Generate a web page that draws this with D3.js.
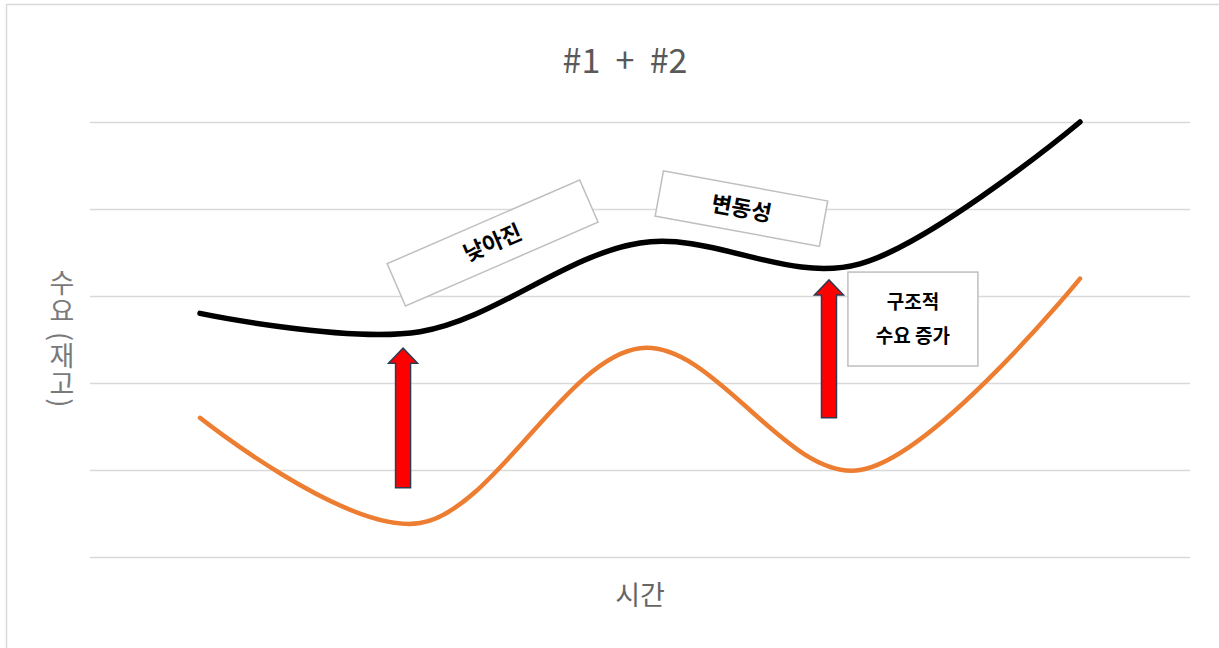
<!DOCTYPE html>
<html>
<head>
<meta charset="utf-8">
<script src="https://cdn.jsdelivr.net/npm/d3@7/dist/d3.min.js"></script>
<style>
  html, body { margin: 0; padding: 0; background: #fff; }
  svg { display: block; }
  text { font-family: "Noto Sans CJK KR", "Noto Sans", sans-serif; }
</style>
</head>
<body>
<svg id="chart" width="1219" height="648"></svg>
<script>
// Time periods (unlabeled categories along the x axis)
const categories = ["t1", "t2", "t3", "t4", "t5"];
// Combined demand (#1 + #2)
const combined = [5.6, 5.18, 7.22, 6.74, 10.0];
// Cyclical demand
const cyclical = [3.2, 0.78, 4.8, 2.0, 6.4];
// Horizontal gridline values
const gridTicks = [0, 2, 4, 6, 8, 10];

// Annotation arrows: position along the category index, start and end value
const arrows = [
  { idx: 0.923, from: 1.59, to: 4.8 },
  { idx: 2.859, from: 3.2, to: 6.37 }
];
// Rotated labels: centre (index, value), size in px, rotation in degrees
const tags = [
  { idx: 1.33, value: 7.22, w: 210, h: 46, angle: -23.5, text: "낮아진" },
  { idx: 2.461, value: 8.01, w: 167, h: 46, angle: 10.4, text: "변동성" }
];
// Boxed note
const note = { x0: 2.945, x1: 3.536, v0: 6.55, v1: 4.39, lines: ["구조적", "수요 증가"] };

const svg = d3.select("#chart");
const W = 1219, H = 648;
const plot = { left: 90, right: 1190, top: 122, bottom: 557 };

// Outer chart frame
svg.append("rect")
  .attr("x", 6.5).attr("y", 4.5)
  .attr("width", W + 20).attr("height", H + 20)
  .attr("fill", "#fff").attr("stroke", "#d9d9d9").attr("stroke-width", 1.5);

const x = d3.scaleBand().domain(categories).range([plot.left, plot.right]);
const xc = d => x(d) + x.bandwidth() / 2;
const xi = d3.scaleLinear().domain([0, categories.length - 1])
  .range([xc(categories[0]), xc(categories[categories.length - 1])]);
const y = d3.scaleLinear().domain([0, 10]).range([plot.bottom, plot.top]);

// Gridlines
svg.append("g")
  .attr("transform", `translate(${plot.left},0)`)
  .call(d3.axisLeft(y).tickValues(gridTicks).tickSize(-(plot.right - plot.left)).tickFormat(""))
  .call(g => g.select(".domain").remove())
  .call(g => g.selectAll("line").attr("stroke", "#d9d9d9").attr("stroke-width", 1.3));

// Title
svg.append("text")
  .attr("x", 625).attr("y", 73)
  .attr("text-anchor", "middle")
  .attr("font-size", 34).attr("fill", "#595959")
  .text("#1\u00a0\u00a0+\u00a0\u00a0#2");

// Axis titles
svg.append("text")
  .attr("x", 640).attr("y", 605)
  .attr("text-anchor", "middle")
  .attr("font-size", 27).attr("fill", "#666")
  .text("시간");

svg.append("text")
  .attr("x", 62).attr("y", 269)
  .attr("font-size", 27).attr("fill", "#7a7a7a")
  .style("writing-mode", "vertical-rl")
  .style("letter-spacing", "1px")
  .text("수요 (재고)");

// Lines
const line = d3.line()
  .x((d, i) => xc(categories[i]))
  .y(d => y(d))
  .curve(d3.curveCardinal.tension(0));

svg.append("path").datum(cyclical)
  .attr("d", line).attr("fill", "none")
  .attr("stroke", "#ed7d31").attr("stroke-width", 4.5)
  .attr("stroke-linecap", "round");

svg.append("path").datum(combined)
  .attr("d", line).attr("fill", "none")
  .attr("stroke", "#000").attr("stroke-width", 5.5)
  .attr("stroke-linecap", "round");

// Arrows
arrows.forEach(a => {
  const cx = xi(a.idx), yb = y(a.from), yt = y(a.to);
  const sw = 7.5, hw = 14.5, hh = 15;
  const pts = [
    [cx - sw, yb], [cx - sw, yt + hh], [cx - hw, yt + hh], [cx, yt],
    [cx + hw, yt + hh], [cx + sw, yt + hh], [cx + sw, yb]
  ];
  svg.append("path")
    .attr("d", d3.line()(pts) + "Z")
    .attr("fill", "#ff0000").attr("stroke", "#2f3b52").attr("stroke-width", 1.5)
    .attr("stroke-linejoin", "miter");
});

// Rotated labels
tags.forEach(t => {
  const g = svg.append("g")
    .attr("transform", `translate(${xi(t.idx)},${y(t.value)}) rotate(${t.angle})`);
  g.append("rect")
    .attr("x", -t.w / 2).attr("y", -t.h / 2).attr("width", t.w).attr("height", t.h)
    .attr("fill", "#fff").attr("stroke", "#bfbfbf").attr("stroke-width", 1.5);
  g.append("text")
    .attr("text-anchor", "middle").attr("dy", "0.35em")
    .attr("font-size", 22).attr("font-weight", "bold").attr("fill", "#000")
    .text(t.text);
});

// Boxed note
{
  const bx0 = xi(note.x0), bx1 = xi(note.x1), by0 = y(note.v0), by1 = y(note.v1);
  svg.append("rect")
    .attr("x", bx0).attr("y", by0).attr("width", bx1 - bx0).attr("height", by1 - by0)
    .attr("fill", "#fff").attr("stroke", "#bfbfbf").attr("stroke-width", 1.5);
  const cxn = (bx0 + bx1) / 2, cyn = (by0 + by1) / 2;
  note.lines.forEach((s, i) => {
    svg.append("text")
      .attr("x", cxn).attr("y", cyn + (i - 0.5) * 34)
      .attr("dy", "0.35em").attr("text-anchor", "middle")
      .attr("font-size", 19).attr("font-weight", "bold").attr("fill", "#000")
      .text(s);
  });
}
</script>
</body>
</html>
